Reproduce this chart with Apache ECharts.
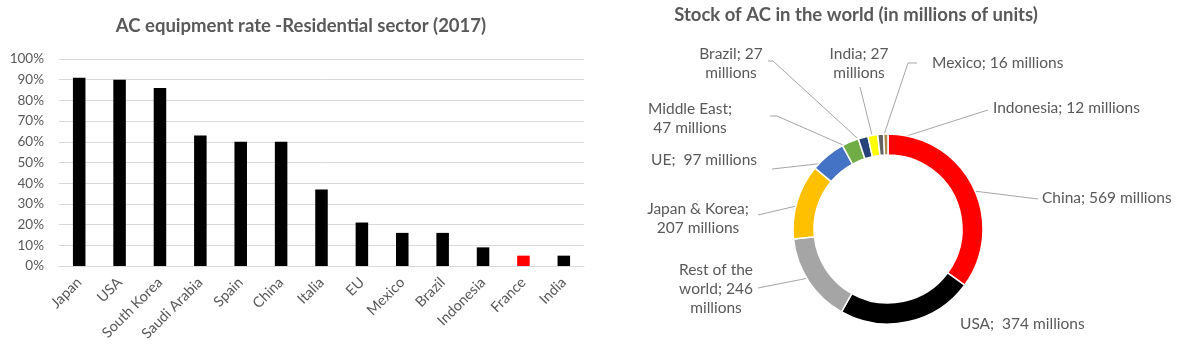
<!DOCTYPE html>
<html>
<head>
<meta charset="utf-8">
<script src="https://cdn.jsdelivr.net/npm/echarts@6/dist/echarts.min.js"></script>
<style>
html,body{margin:0;padding:0;background:#fff;}
#chart{width:1200px;height:362px;}
</style>
</head>
<body>
<div id="chart"></div>
<script>
// ---- Data ----
const barCategories = ['Japan','USA','South Korea','Saudi Arabia','Spain','China','Italia','EU','Mexico','Brazil','Indonesia','France','India'];
const barValues = [91, 90, 86, 63, 60, 60, 37, 21, 16, 16, 9, 5, 5];
const highlightCategory = 'France';

const pieNames = ['China','USA','Rest of the world','Japan & Korea','UE','Middle East','Brazil','India','Mexico','Indonesia'];
const pieValues = [569, 374, 246, 207, 97, 47, 27, 27, 16, 12];

const leftTitle = 'AC equipment rate -Residential sector (2017)';
const rightTitle = 'Stock of AC in the world (in millions of units)';

// ---- Styles ----
const pieColors = ['#ff0000','#000000','#a5a5a5','#ffc000','#4472c4','#70ad47','#264478','#ffff00','#636363','#a88a4a'];
const textColor = '#595959';
const FONT = 'Lato, "Open Sans", sans-serif';

const pieCenter = [888, 229];
const pieR = [74, 95];

// label placement (text anchor, alignment, leader-line end points)
const labelPlace = {
  'China':             {x:1042, y:198, align:'left',   end:[[1038,199]]},
  'USA':               {x:960,  y:324, align:'left',   end:null},
  'Rest of the world': {x:716,  y:289, align:'center', end:[[758,288]]},
  'Japan & Korea':     {x:698,  y:218, align:'center', end:[[758,215]]},
  'UE':                {x:757,  y:160, align:'right',  end:[[772,169]]},
  'Middle East':       {x:690,  y:118, align:'center', end:[[777,116],[770,116]]},
  'Brazil':            {x:731,  y:63,  align:'center', end:[[773,61],[768,61]]},
  'India':             {x:859,  y:63,  align:'center', end:[[860,87]]},
  'Mexico':            {x:932,  y:63,  align:'left',   end:[[908,63],[917,63]]},
  'Indonesia':         {x:993,  y:108, align:'left',   end:[[988,110]]}
};

function pieLabelText(name, v) {
  switch (name) {
    case 'Brazil':
    case 'India': return name + '; ' + v + '\nmillions';
    case 'Middle East':
    case 'Japan & Korea': return name + ';\n' + v + ' millions';
    case 'Rest of the world': return 'Rest of the\nworld; ' + v + '\nmillions';
    case 'UE':
    case 'USA': return name + ';  ' + v + ' millions';
    default: return name + '; ' + v + ' millions';
  }
}

const chart = echarts.init(document.getElementById('chart'), null, {renderer: 'canvas'});

const option = {
  backgroundColor: '#ffffff',
  animation: false,
  textStyle: {fontFamily: FONT},
  title: [
    {text: leftTitle, left: 301, top: 17, textAlign: 'center', padding: 0,
     textStyle: {fontFamily: FONT, fontSize: 18.5, fontWeight: 'bold', color: textColor}},
    {text: rightTitle, left: 856, top: 6, textAlign: 'center', padding: 0,
     textStyle: {fontFamily: FONT, fontSize: 18.5, fontWeight: 'bold', color: textColor}}
  ],
  grid: {left: 59, right: 616, top: 59, bottom: 96, containLabel: false},
  xAxis: {
    type: 'category',
    data: barCategories,
    axisTick: {show: false},
    axisLine: {show: true, lineStyle: {color: '#d9d9d9', width: 1}},
    axisLabel: {rotate: 45, margin: 14, fontSize: 14.5, color: textColor, fontFamily: FONT, interval: 0}
  },
  yAxis: {
    type: 'value',
    min: 0, max: 100, interval: 10,
    axisLine: {show: false},
    axisTick: {show: false},
    splitLine: {lineStyle: {color: '#d9d9d9', width: 1}},
    axisLabel: {formatter: '{value}%', margin: 15, fontSize: 13.5, color: textColor, fontFamily: FONT}
  },
  series: [
    {
      type: 'bar',
      barWidth: '31%',
      data: barValues.map((v, i) => ({
        value: v,
        itemStyle: {color: barCategories[i] === highlightCategory ? '#ff0000' : '#000000'}
      }))
    },
    {
      type: 'pie',
      center: pieCenter,
      radius: pieR,
      startAngle: 90,
      clockwise: true,
      avoidLabelOverlap: false,
      itemStyle: {borderColor: '#ffffff', borderWidth: 1.5},
      label: {
        show: true,
        position: 'outside',
        color: textColor,
        fontFamily: FONT,
        fontSize: 15.5,
        lineHeight: 19,
        formatter: p => pieLabelText(p.name, p.value)
      },
      labelLine: {show: true, lineStyle: {color: '#a6a6a6', width: 1}, length: 10, length2: 10},
      labelLayout: function (params) {
        const name = pieNames[params.dataIndex];
        const pl = labelPlace[name];
        const out = {x: pl.x, y: pl.y, align: pl.align, verticalAlign: 'middle'};
        if (pl.end && params.labelLinePoints && params.labelLinePoints.length) {
          const p0 = params.labelLinePoints[0];
          const dx = p0[0] - pieCenter[0], dy = p0[1] - pieCenter[1];
          const len = Math.sqrt(dx * dx + dy * dy) || 1;
          const rMid = (pieR[0] + pieR[1]) / 2 + 2;
          const start = [pieCenter[0] + dx / len * rMid, pieCenter[1] + dy / len * rMid];
          const ends = pl.end;
          out.labelLinePoints = ends.length === 1 ? [start, ends[0], ends[0]] : [start, ends[0], ends[1]];
        }
        return out;
      },
      data: pieValues.map((v, i) => ({
        name: pieNames[i],
        value: v,
        itemStyle: {color: pieColors[i]},
        labelLine: {show: labelPlace[pieNames[i]].end !== null}
      }))
    }
  ]
};

chart.setOption(option);
</script>
</body>
</html>
